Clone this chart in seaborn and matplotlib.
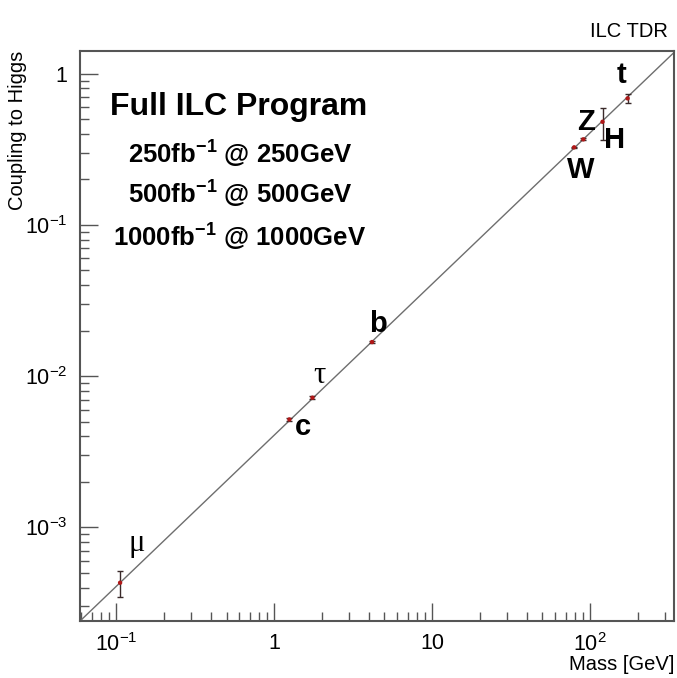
import numpy as np
import pandas as pd
import matplotlib
matplotlib.use("Agg")
import matplotlib.pyplot as plt
import seaborn as sns
from matplotlib.ticker import FixedLocator, FixedFormatter, LogLocator, NullFormatter

# Particles, their masses [GeV] and measured couplings to the Higgs
particles = ["μ", "c", "τ", "b", "W", "Z", "H", "t"]
mass = [0.106, 1.25, 1.75, 4.17, 79.3, 90.7, 120.0, 173.0]
coupling = [0.00043, 0.00517, 0.0072, 0.0168, 0.326, 0.368, 0.481, 0.687]
coupling_err = [0.000085, 0.00010, 0.00015, 0.00030, 0.004, 0.005, 0.114, 0.045]

# Standard Model expectation (coupling proportional to mass)
line_mass = [0.05, 400.0]
line_coupling = [0.000203, 1.626]

x_ticks = [0.1, 1, 10, 100]
x_tick_labels = [r"$10^{-1}$", "1", "10", r"$10^{2}$"]
y_ticks = [0.001, 0.01, 0.1, 1]
y_tick_labels = [r"$10^{-3}$", r"$10^{-2}$", r"$10^{-1}$", "1"]

info_lines = ["Full ILC Program",
              r"250fb$^{\mathbf{-1}}$ @ 250GeV",
              r"500fb$^{\mathbf{-1}}$ @ 500GeV",
              r"1000fb$^{\mathbf{-1}}$ @ 1000GeV"]

sns.set_theme(style="ticks")
plt.rcParams["font.family"] = ["Liberation Sans", "DejaVu Sans"]
plt.rcParams["mathtext.fontset"] = "custom"
plt.rcParams["mathtext.rm"] = "Liberation Sans"
plt.rcParams["mathtext.bf"] = "Liberation Sans:bold"
plt.rcParams["mathtext.default"] = "regular"
plt.rcParams["text.color"] = "black"
plt.rcParams["axes.labelcolor"] = "black"
plt.rcParams["xtick.labelcolor"] = "black"
plt.rcParams["ytick.labelcolor"] = "black"

df = pd.DataFrame({"particle": particles, "mass": mass,
                   "coupling": coupling, "err": coupling_err})
line_df = pd.DataFrame({"mass": line_mass, "coupling": line_coupling})

fig = plt.figure(figsize=(6.77, 6.78), dpi=100)
ax = fig.add_axes([80 / 677, 57.5 / 678, 594 / 677, 569.8 / 678])

sns.lineplot(data=line_df, x="mass", y="coupling", ax=ax,
             color="#6e6e6e", linewidth=1.0)
ax.errorbar(df["mass"], df["coupling"], yerr=df["err"], fmt="none",
            ecolor="#3a2a2a", elinewidth=1.0, capsize=2.5, capthick=1.0)
sns.scatterplot(data=df, x="mass", y="coupling", ax=ax, s=10,
                color="#b01818", edgecolor="none", zorder=5)

ax.set_xscale("log")
ax.set_yscale("log")
ax.set_xlim(0.0591, 340)
ax.set_ylim(2.42e-4, 1.42)

ax.xaxis.set_major_locator(FixedLocator(x_ticks))
ax.xaxis.set_major_formatter(FixedFormatter(x_tick_labels))
ax.yaxis.set_major_locator(FixedLocator(y_ticks))
ax.yaxis.set_major_formatter(FixedFormatter(y_tick_labels))
for axis in (ax.xaxis, ax.yaxis):
    axis.set_minor_locator(LogLocator(base=10, subs=np.arange(2, 10), numticks=20))
    axis.set_minor_formatter(NullFormatter())

ax.tick_params(which="both", direction="in", top=False, right=False,
               color="#555555", width=1.0)
ax.tick_params(which="major", length=13, labelsize=15.5, pad=9,
               labelcolor="black")
ax.tick_params(which="minor", length=6.5)
for sp in ax.spines.values():
    sp.set_color("#555555")
    sp.set_linewidth(1.5)

ax.set_xlabel("Mass [GeV]", fontsize=14.5, loc="right", color="black")
ax.xaxis.set_label_coords(1.0, -0.060)
ax.xaxis.label.set_va("top")
ax.set_ylabel("Coupling to Higgs", fontsize=14.5, loc="top", color="black")
ax.yaxis.set_label_coords(-0.089, 1.0)

# particle names next to their points
label_pos = {"t": (158.7, 0.864), "Z": (94.4, 0.424), "H": (143.8, 0.321),
             "W": (87.1, 0.203), "b": (4.57, 0.01956), "c": (1.533, 0.00405),
             "τ": (1.93, 0.00899), "μ": (0.135, 0.000701)}
for name in particles:
    x, y = label_pos[name]
    if name in ("τ", "μ"):
        ax.text(x, y, name, ha="center", va="baseline", fontsize=22,
                color="black", family=["Liberation Serif", "DejaVu Serif"])
    else:
        ax.text(x, y, name, ha="center", va="baseline", fontsize=21,
                color="black", fontweight="bold")

fig.text(239 / 677, 1 - 115 / 678, info_lines[0], ha="center",
         va="baseline", fontsize=23, fontweight="bold", color="black")
for txt, yb in zip(info_lines[1:], [163.3, 204.0, 246.7]):
    fig.text(240 / 677, 1 - yb / 678, txt, ha="center", va="baseline",
             fontsize=18.5, fontweight="bold", color="black")

fig.text(668 / 677, 1 - 37 / 678, "ILC TDR", ha="right", va="baseline",
         fontsize=14.5, color="black")

fig.savefig("out.png", dpi=100, facecolor="white")
